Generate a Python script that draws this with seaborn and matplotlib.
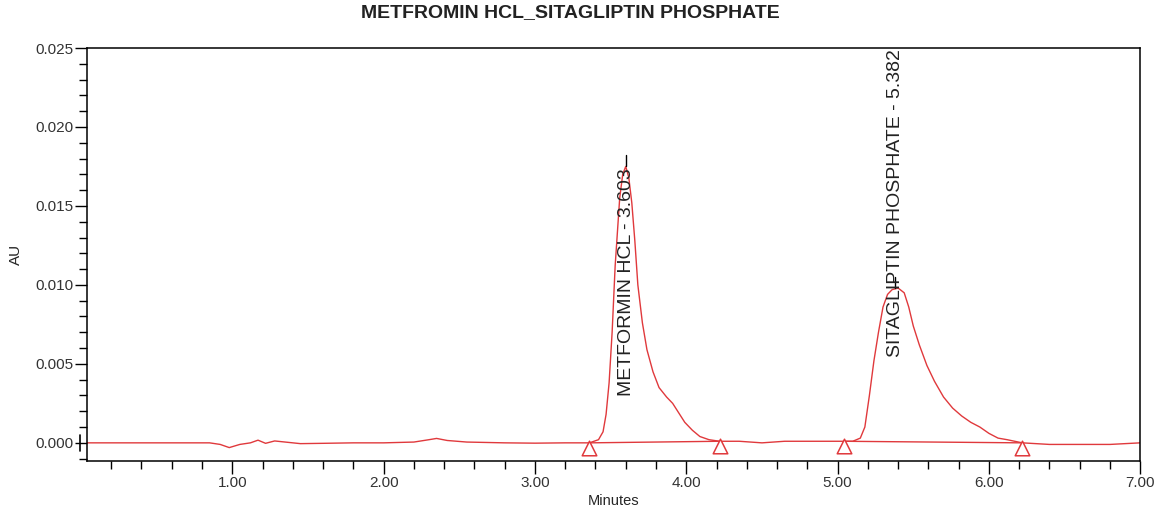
import numpy as np
import pandas as pd
import matplotlib
matplotlib.use("Agg")
import matplotlib.pyplot as plt
import matplotlib.transforms as mtransforms
import seaborn as sns
from matplotlib.ticker import MultipleLocator, FormatStrFormatter

# ---- data ----
time_min = [0.04, 0.3, 0.6, 0.85, 0.92, 0.98, 1.05, 1.12, 1.17, 1.22, 1.28, 1.35, 1.45, 1.6,
            1.8, 2.0, 2.2, 2.3, 2.35, 2.42, 2.55, 2.8, 3.0, 3.2, 3.36, 3.42, 3.45, 3.47,
            3.49, 3.51, 3.53, 3.56, 3.58, 3.60, 3.62, 3.64, 3.66, 3.68, 3.71, 3.74, 3.78,
            3.82, 3.87, 3.91, 3.95, 3.99, 4.04, 4.09, 4.15, 4.22, 4.35, 4.5, 4.65, 4.8,
            4.95, 5.04, 5.10, 5.15, 5.18, 5.21, 5.24, 5.27, 5.30, 5.33, 5.36, 5.40, 5.44,
            5.47, 5.50, 5.54, 5.59, 5.64, 5.70, 5.76, 5.82, 5.88, 5.94, 6.00, 6.06, 6.12,
            6.22, 6.4, 6.6, 6.8, 7.0]
absorbance_au = [0.0, 0.0, 0.0, 0.0, -0.0001, -0.0003, -0.0001, 0.0, 0.00017, -0.00003,
                 0.00012, 0.00005, -0.00005, -0.00003, 0.0, 0.0, 0.00005, 0.0002, 0.00028,
                 0.00015, 0.00005, 0.0, -0.00002, 0.0, 0.0, 0.0002, 0.0007, 0.0018,
                 0.0038, 0.0070, 0.0112, 0.0155, 0.0170, 0.0175, 0.0168, 0.0152, 0.0128,
                 0.0100, 0.0076, 0.0059, 0.0045, 0.0035, 0.0029, 0.0025, 0.0019, 0.0013,
                 0.0008, 0.0004, 0.0002, 0.0001, 0.0001, 0.0, 0.0001, 0.0001, 0.0001,
                 0.0001, 0.0001, 0.0003, 0.0010, 0.0030, 0.0052, 0.0070, 0.0086, 0.0094,
                 0.0097, 0.0098, 0.0095, 0.0086, 0.0074, 0.0062, 0.0049, 0.0039, 0.0029,
                 0.0022, 0.0017, 0.0013, 0.0010, 0.0006, 0.0003, 0.0002, 0.0, -0.0001,
                 -0.0001, -0.0001, 0.0]

peak_names = ["METFORMIN HCL", "SITAGLIPTIN PHOSPHATE"]
peak_rt = [3.603, 5.382]
peak_apex = [0.0175, 0.0098]
peak_start = [3.36, 5.04]
peak_end = [4.22, 6.22]
start_level = [0.0, 0.0001]
end_level = [0.0001, 0.0]

x_ticks = [1, 2, 3, 4, 5, 6, 7]
y_ticks = [0.000, 0.005, 0.010, 0.015, 0.020, 0.025]
title = "METFROMIN HCL_SITAGLIPTIN PHOSPHATE"

# ---- drawing ----
sns.set_style("ticks")
plt.rcParams["font.family"] = ["Liberation Sans", "DejaVu Sans"]

fig = plt.figure(figsize=(11.6, 5.08), dpi=100)
ax = fig.add_axes([0.075, 0.0925, 0.908, 0.813])

trace = pd.DataFrame({"Minutes": time_min, "AU": absorbance_au})
red = "#e0393c"
sns.lineplot(data=trace, x="Minutes", y="AU", ax=ax, color=red, lw=1.0,
             estimator=None, sort=False)

# integration baselines and markers
bl = pd.DataFrame({
    "t": [v for pair in zip(peak_start, peak_end) for v in pair],
    "v": [v for pair in zip(start_level, end_level) for v in pair],
    "peak": [n for n in peak_names for _ in range(2)],
})
sns.lineplot(data=bl, x="t", y="v", units="peak", estimator=None, ax=ax,
             color=red, lw=1.0)
mk_t = peak_start + peak_end
mk_v = start_level + end_level
ax.scatter(mk_t, [v - 0.00032 for v in mk_v], marker="^", s=110,
           facecolor="white", edgecolor=red, linewidth=1.1, zorder=5)

# peak labels
label_top = [0.0174, 0.0249]
for name, rt, apex, top in zip(peak_names, peak_rt, peak_apex, label_top):
    ax.plot([rt, rt], [apex, apex + 0.0007], color="black", lw=1.0)
    ax.text(rt, top, f"{name} - {rt:.3f}", rotation=90, ha="center", va="top",
            fontsize=14, color="#222222")

# zero-level marker left of the axis
trans = mtransforms.blended_transform_factory(ax.transAxes, ax.transData)
ax.plot([-0.0066, -0.0066], [-0.0005, 0.0005], color="black", lw=1.2,
        transform=trans, clip_on=False)

ax.set_xlim(0.04, 7.0)
ax.set_ylim(-0.00115, 0.025)
ax.set_xticks(x_ticks)
ax.set_yticks(y_ticks)
ax.xaxis.set_minor_locator(MultipleLocator(0.2))
ax.yaxis.set_minor_locator(MultipleLocator(0.001))
ax.xaxis.set_major_formatter(FormatStrFormatter("%.2f"))
ax.yaxis.set_major_formatter(FormatStrFormatter("%.3f"))
ax.tick_params(axis="both", which="major", length=9, width=1.0, labelsize=11,
               color="black", labelcolor="#333333", direction="out", pad=1)
ax.tick_params(axis="both", which="minor", length=6, width=1.0, color="black",
               direction="out")
ax.tick_params(axis="x", which="major", pad=2)
for s in ax.spines.values():
    s.set_visible(True)
    s.set_linewidth(1.1)
    s.set_color("black")

ax.set_xlabel("Minutes", fontsize=10.5, labelpad=3)
ax.set_ylabel("AU", fontsize=11, labelpad=9)
fig.text(0.492, 1 - 13 / 508, title, ha="center", va="center",
         fontsize=14, fontweight="bold", color="#222222")

fig.savefig("out.png", dpi=100, facecolor="white")
